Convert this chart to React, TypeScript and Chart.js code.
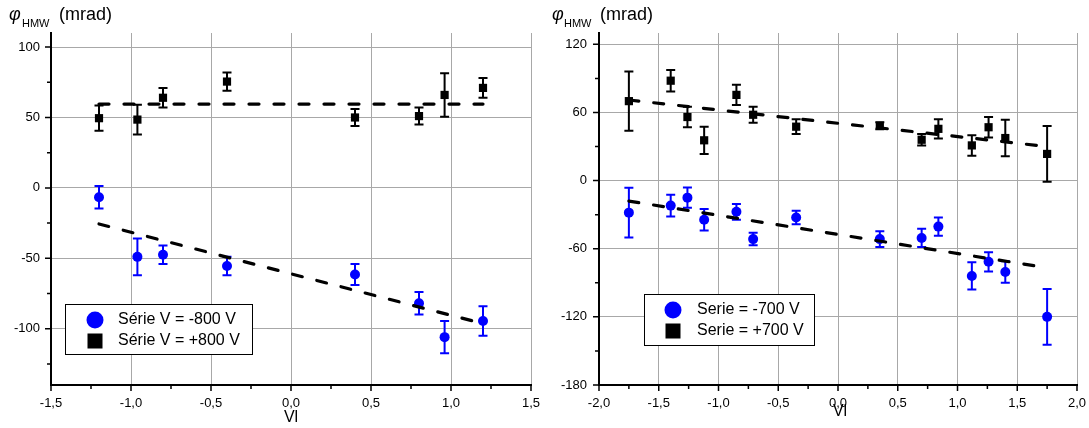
import React, { useEffect, useRef } from 'react';
import { Chart, registerables } from 'chart.js';

Chart.register(...registerables);

const FONT = "'Liberation Sans', Arial, sans-serif";

// ---------- Left panel data (V = ±800 V) ----------
const xLeft = [-1.2, -0.96, -0.8, -0.4, 0.4, 0.8, 0.96, 1.2];
const plus800 = [49.5, 48.5, 64, 75.5, 50, 51, 66, 71];
const plus800Err = [9, 10.5, 7, 6.5, 6, 6, 15.5, 7];
const minus800 = [-6.7, -49, -47.5, -55.5, -61.5, -82, -106, -94.5];
const minus800Err = [8, 13, 6.5, 6.5, 7.5, 8, 11.5, 10.5];
const fitXLeft = [-1.2, 1.2];
const fitPlus800 = [59.5, 59.5];
const fitMinus800 = [-25.6, -96.4];
const xTicksLeft = [-1.5, -1, -0.5, 0, 0.5, 1, 1.5];
const xTickLabelsLeft = ['-1,5', '-1,0', '-0,5', '0,0', '0,5', '1,0', '1,5'];
const xMinorLeft = [-1.25, -0.75, -0.25, 0.25, 0.75, 1.25];
const yTicksLeft = [-100, -50, 0, 50, 100];
const yTickLabelsLeft = ['-100', '-50', '0', '50', '100'];
const yMinorLeft = [-125, -75, -25, 25, 75];
const legendLeft = ['Série V = -800 V', 'Série V = +800 V'];

// ---------- Right panel data (±700 V) ----------
const xRight = [-1.75, -1.4, -1.26, -1.12, -0.85, -0.71, -0.35, 0.35, 0.7, 0.84, 1.12, 1.26, 1.4, 1.75];
const plus700 = [70, 88, 56, 35.5, 75.5, 58, 47.5, 48.3, 36, 45.6, 31, 47, 37.5, 23.5];
const plus700Err = [26, 9.5, 9, 12, 9, 7, 6.5, 3, 5, 8.5, 9, 9, 16, 24.5];
const minus700 = [-28.2, -22, -15, -34.5, -27.5, -51.5, -32.5, -51.5, -50.5, -40.5, -84, -71.5, -80.5, -120];
const minus700Err = [22, 9.5, 9, 9.5, 7, 5.5, 6, 7, 8, 8, 12, 8.5, 9.5, 24.5];
const fitXRight = [-1.75, 1.75];
const fitPlus700 = [71, 30];
const fitMinus700 = [-18, -76.8];
const xTicksRight = [-2, -1.5, -1, -0.5, 0, 0.5, 1, 1.5, 2];
const xTickLabelsRight = ['-2,0', '-1,5', '-1,0', '-0,5', '0,0', '0,5', '1,0', '1,5', '2,0'];
const xMinorRight = [-1.75, -1.25, -0.75, -0.25, 0.25, 0.75, 1.25, 1.75];
const yTicksRight = [-180, -120, -60, 0, 60, 120];
const yTickLabelsRight = ['-180', '-120', '-60', '0', '60', '120'];
const yMinorRight = [-150, -90, -30, 30, 90];
const legendRight = ['Serie = -700 V', 'Serie = +700 V'];

const BLUE = '#0000ff';
const BLACK = '#000000';

type PanelCfg = {
  left: number;
  width: number;
  yAxisWidth: number;
  padRight: number;
  yLabelPad: number;
  xMin: number; xMax: number; yMin: number; yMax: number;
  xs: number[]; plusY: number[]; plusErr: number[]; minusY: number[]; minusErr: number[];
  fitX: number[]; fitPlus: number[]; fitMinus: number[];
  xTicks: number[]; xTickLabels: string[]; xMinor: number[];
  yTicks: number[]; yTickLabels: string[]; yMinor: number[];
  legendLabels: string[];
  legendBox: { x: number; y: number; w: number; h: number; mx: number; tx: number; y1: number; y2: number };
  title: { phiX: number; subX: number; mX: number };
  vl: { x: number; y: number };
};

function makeDecor(cfg: PanelCfg) {
  return {
    id: 'decor',
    beforeDatasetDraw(chart: any, args: any) {
      const ds = chart.data.datasets[args.index];
      if (!ds.errors) return;
      const ys = chart.scales.y;
      const ctx = chart.ctx;
      ctx.save();
      ctx.strokeStyle = ds.errColor;
      ctx.lineWidth = 2;
      args.meta.data.forEach((pt: any, i: number) => {
        const v = ds.data[i].y;
        const e = ds.errors[i];
        const top = ys.getPixelForValue(v + e);
        const bot = ys.getPixelForValue(v - e);
        const x = pt.x;
        ctx.beginPath();
        ctx.moveTo(x, top); ctx.lineTo(x, bot);
        ctx.moveTo(x - 4.5, top); ctx.lineTo(x + 4.5, top);
        ctx.moveTo(x - 4.5, bot); ctx.lineTo(x + 4.5, bot);
        ctx.stroke();
      });
      ctx.restore();
    },
    afterDraw(chart: any) {
      const ctx = chart.ctx;
      const xs = chart.scales.x;
      const ys = chart.scales.y;
      const ca = chart.chartArea;
      ctx.save();
      // tick marks
      ctx.strokeStyle = '#000';
      ctx.lineWidth = 1.5;
      ctx.beginPath();
      cfg.xTicks.forEach((v) => { const p = xs.getPixelForValue(v); ctx.moveTo(p, ca.bottom); ctx.lineTo(p, ca.bottom + 6); });
      cfg.xMinor.forEach((v) => { const p = xs.getPixelForValue(v); ctx.moveTo(p, ca.bottom); ctx.lineTo(p, ca.bottom + 4); });
      cfg.yTicks.forEach((v) => { const p = ys.getPixelForValue(v); ctx.moveTo(ca.left, p); ctx.lineTo(ca.left - 6, p); });
      cfg.yMinor.forEach((v) => { const p = ys.getPixelForValue(v); ctx.moveTo(ca.left, p); ctx.lineTo(ca.left - 4, p); });
      ctx.stroke();

      // legend
      const lb = cfg.legendBox;
      ctx.fillStyle = '#fff';
      ctx.fillRect(lb.x, lb.y, lb.w, lb.h);
      ctx.strokeStyle = '#000';
      ctx.lineWidth = 1;
      ctx.strokeRect(lb.x + 0.5, lb.y + 0.5, lb.w, lb.h);
      ctx.fillStyle = BLUE;
      ctx.beginPath();
      ctx.arc(lb.mx, lb.y1, 8.5, 0, Math.PI * 2);
      ctx.fill();
      ctx.fillStyle = BLACK;
      ctx.fillRect(lb.mx - 7.5, lb.y2 - 7.5, 15, 15);
      ctx.fillStyle = '#000';
      ctx.font = `16px ${FONT}`;
      ctx.textAlign = 'left';
      ctx.textBaseline = 'middle';
      ctx.fillText(cfg.legendLabels[0], lb.tx, lb.y1);
      ctx.fillText(cfg.legendLabels[1], lb.tx, lb.y2);

      // y title
      ctx.textBaseline = 'alphabetic';
      ctx.font = `italic 18px ${FONT}`;
      ctx.fillText('\u03C6', cfg.title.phiX, 20);
      ctx.font = `11px ${FONT}`;
      ctx.fillText('HMW', cfg.title.subX, 27);
      ctx.font = `18px ${FONT}`;
      ctx.fillText('(mrad)', cfg.title.mX, 20);

      // x title
      ctx.font = `16px ${FONT}`;
      ctx.textAlign = 'center';
      ctx.fillText('Vl', cfg.vl.x, cfg.vl.y);
      ctx.restore();
    },
  };
}

function Panel({ cfg }: { cfg: PanelCfg }) {
  const ref = useRef<HTMLCanvasElement>(null);
  useEffect(() => {
    if (!ref.current) return;
    const toPts = (ys: number[], xs: number[]) => ys.map((y, i) => ({ x: xs[i], y }));
    const chart = new Chart(ref.current, {
      type: 'scatter',
      data: {
        datasets: [
          {
            label: 'fit+',
            data: toPts(cfg.fitPlus, cfg.fitX),
            showLine: true,
            borderColor: BLACK,
            borderWidth: 3.2,
            borderDash: [10, 15],
            borderCapStyle: 'round',
            pointRadius: 0,
            fill: false,
          } as any,
          {
            label: 'fit-',
            data: toPts(cfg.fitMinus, cfg.fitX),
            showLine: true,
            borderColor: BLACK,
            borderWidth: 3.2,
            borderDash: [10, 15],
            borderCapStyle: 'round',
            pointRadius: 0,
            fill: false,
          } as any,
          {
            label: cfg.legendLabels[1],
            data: toPts(cfg.plusY, cfg.xs),
            pointStyle: 'rect',
            pointRadius: 5.8,
            backgroundColor: BLACK,
            borderColor: BLACK,
            borderWidth: 0,
            errors: cfg.plusErr,
            errColor: BLACK,
          } as any,
          {
            label: cfg.legendLabels[0],
            data: toPts(cfg.minusY, cfg.xs),
            pointStyle: 'circle',
            pointRadius: 5,
            backgroundColor: BLUE,
            borderColor: BLUE,
            borderWidth: 0,
            errors: cfg.minusErr,
            errColor: BLUE,
          } as any,
        ],
      },
      options: {
        animation: false,
        responsive: false,
        devicePixelRatio: 1,
        events: [],
        layout: { padding: { top: 33, right: cfg.padRight, left: 0, bottom: 0 } },
        plugins: { legend: { display: false }, tooltip: { enabled: false } },
        scales: {
          x: {
            type: 'linear',
            min: cfg.xMin,
            max: cfg.xMax,
            afterBuildTicks: (s: any) => { s.ticks = cfg.xTicks.map((v) => ({ value: v })); },
            afterFit: (s: any) => { s.height = 43; s.paddingLeft = 0; s.paddingRight = 0; },
            grid: { color: '#a8a8a8', lineWidth: 1, drawTicks: false },
            border: { display: true, color: '#000', width: 2 },
            ticks: {
              autoSkip: false,
              maxRotation: 0,
              padding: 11,
              color: '#000',
              font: { family: FONT, size: 13 },
              callback: (_v: any, i: number) => cfg.xTickLabels[i],
            },
          },
          y: {
            type: 'linear',
            min: cfg.yMin,
            max: cfg.yMax,
            afterBuildTicks: (s: any) => { s.ticks = cfg.yTicks.map((v) => ({ value: v })); },
            afterFit: (s: any) => { s.width = cfg.yAxisWidth; s.paddingTop = 0; s.paddingBottom = 0; },
            grid: { color: '#a8a8a8', lineWidth: 1, drawTicks: false },
            border: { display: true, color: '#000', width: 2 },
            ticks: {
              autoSkip: false,
              padding: cfg.yLabelPad,
              color: '#000',
              font: { family: FONT, size: 13 },
              callback: (_v: any, i: number) => cfg.yTickLabels[i],
            },
          },
        },
      } as any,
      plugins: [makeDecor(cfg)],
    });
    return () => chart.destroy();
  }, [cfg]);
  return (
    <canvas
      ref={ref}
      width={cfg.width}
      height={428}
      style={{ position: 'absolute', left: cfg.left, top: 0, width: cfg.width, height: 428 }}
    />
  );
}

const leftCfg: PanelCfg = {
  left: 0, width: 545, yAxisWidth: 51, padRight: 14, yLabelPad: 11,
  xMin: -1.5, xMax: 1.5, yMin: -140, yMax: 110,
  xs: xLeft, plusY: plus800, plusErr: plus800Err, minusY: minus800, minusErr: minus800Err,
  fitX: fitXLeft, fitPlus: fitPlus800, fitMinus: fitMinus800,
  xTicks: xTicksLeft, xTickLabels: xTickLabelsLeft, xMinor: xMinorLeft,
  yTicks: yTicksLeft, yTickLabels: yTickLabelsLeft, yMinor: yMinorLeft,
  legendLabels: legendLeft,
  legendBox: { x: 65, y: 304, w: 187, h: 50, mx: 95, tx: 118, y1: 320, y2: 341 },
  title: { phiX: 9, subX: 22, mX: 59 },
  vl: { x: 291, y: 422 },
};

const rightCfg: PanelCfg = {
  left: 545, width: 544, yAxisWidth: 54, padRight: 12, yLabelPad: 12,
  xMin: -2, xMax: 2, yMin: -180, yMax: 130,
  xs: xRight, plusY: plus700, plusErr: plus700Err, minusY: minus700, minusErr: minus700Err,
  fitX: fitXRight, fitPlus: fitPlus700, fitMinus: fitMinus700,
  xTicks: xTicksRight, xTickLabels: xTickLabelsRight, xMinor: xMinorRight,
  yTicks: yTicksRight, yTickLabels: yTickLabelsRight, yMinor: yMinorRight,
  legendLabels: legendRight,
  legendBox: { x: 99, y: 294, w: 170, h: 51, mx: 128, tx: 152, y1: 310, y2: 331 },
  title: { phiX: 7, subX: 19, mX: 55 },
  vl: { x: 295, y: 416 },
};

export default function App() {
  return (
    <div style={{ position: 'fixed', left: 0, top: 0, width: 1089, height: 428, background: '#fff' }}>
      <Panel cfg={leftCfg} />
      <Panel cfg={rightCfg} />
    </div>
  );
}
